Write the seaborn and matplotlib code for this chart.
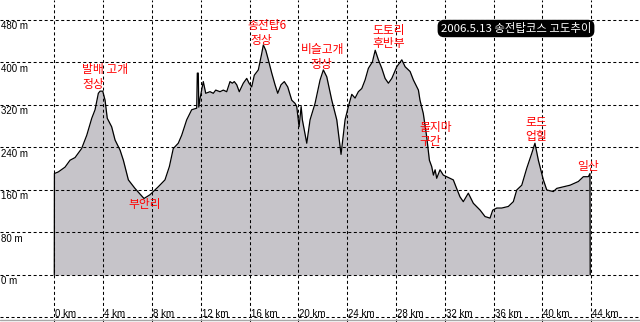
import matplotlib
matplotlib.use("Agg")
import matplotlib.pyplot as plt
import seaborn as sns
import pandas as pd

# ---- data (distance km, elevation m) ----
dist_km = [0.0, 0.01, 0.33, 0.88, 1.29, 1.70, 2.24, 2.66, 3.07, 3.34, 3.61, 3.75, 3.97,
           4.16, 4.34, 4.70, 4.98, 5.39, 5.66, 6.07, 6.61, 7.35, 7.84, 8.52, 9.07, 9.43,
           9.75, 10.16, 10.44, 10.85, 11.26, 11.67, 11.72, 11.80, 11.84, 11.95, 12.21,
           12.41, 12.76, 13.03, 13.23, 13.58, 13.85, 14.13, 14.40, 14.59, 14.75, 14.95,
           15.16, 15.49, 15.77, 15.96, 16.18, 16.39, 16.72, 17.00, 17.13, 17.33, 17.54,
           17.82, 18.09, 18.31, 18.58, 18.85, 19.13, 19.46, 19.73, 19.87,
           20.06, 20.23, 20.33, 20.69, 20.96, 21.37, 21.78, 22.05, 22.33,
           22.74, 23.15, 23.50, 23.83, 24.10, 24.38, 24.65, 24.92, 25.20, 25.47, 25.74,
           26.07, 26.30, 26.56, 26.84, 27.11, 27.38, 27.66, 28.07, 28.48, 28.75, 29.16,
           29.43, 29.84, 29.97, 30.24, 30.52, 30.74, 30.93, 31.07, 31.21, 31.34, 31.61,
           31.88, 32.16, 32.70, 32.97, 33.25, 33.52, 33.93, 34.34, 34.90, 35.30,
           35.71, 35.93, 36.26, 36.67, 37.21, 37.62, 37.90, 38.31, 38.72, 39.13, 39.39,
           39.67, 40.08, 40.36, 40.90, 41.18, 41.72, 42.27, 42.95, 43.36, 43.77, 43.90,
           43.92]
elev_m = [0, 191, 194, 203, 216, 221, 238, 263, 295, 311, 342, 346, 346,
          329, 295, 279, 254, 235, 216, 179, 163, 144, 151, 166, 179, 204,
          238, 248, 263, 292, 311, 314, 380, 380, 316, 333, 364,
          342, 345, 342, 348, 345, 348, 345, 364, 361, 364, 358,
          345, 361, 370, 361, 354, 376, 386, 417, 433, 423, 405,
          380, 358, 342, 358, 364, 354, 329, 323, 317,
          279, 317, 292, 248, 292, 323, 367, 386, 373,
          329, 292, 227, 292, 317, 340, 333, 345, 351, 367, 389,
          401, 423, 405, 389, 370, 361, 370, 392, 405, 392, 383,
          367, 348, 329, 304, 260, 216, 204, 188, 198, 182, 198,
          188, 185, 179, 163, 147, 138, 154, 135, 122, 110,
          107, 122, 126, 126, 129, 138, 160, 169, 201, 229, 248,
          216, 179, 160, 157, 163, 166, 169, 176, 185, 185, 191,
          0]

y_ticks = [0, 80, 160, 240, 320, 400, 480]
y_tick_labels = ["0 m", "80 m", "160 m", "240 m", "320 m", "400 m", "480 m"]
x_ticks = [0, 4, 8, 12, 16, 20, 24, 28, 32, 36, 40, 44]
x_tick_labels = ["0 km", "4 km", "8 km", "12 km", "16 km", "20 km", "24 km",
                 "28 km", "32 km", "36 km", "40 km", "44 km"]

# place-name annotations: (text, km, m) — left edge / vertical centre
note_texts = ["발배 고개", "정상", "부안리", "송전탑6", "정상", "비슬고개", "정상",
              "도토리", "후반부", "물지마", "구간", "로드", "업힐", "일산"]
note_km = [2.27, 2.27, 6.05, 15.86, 16.10, 20.20, 20.96,
           26.04, 26.04, 29.90, 29.90, 38.58, 38.58, 42.84]
note_m = [386, 359, 132, 470, 442, 425, 397,
          461, 435, 277, 252, 288, 260, 205]

title = "2006.5.13 송전탑코스 고도추이"

# ---- figure ----
sns.set_style("white")
plt.rcParams["font.family"] = ["Liberation Sans", "DejaVu Sans"]
kfont = ["Noto Sans CJK KR", "DejaVu Sans"]

fig = plt.figure(figsize=(6.4, 3.22), dpi=100)
ax = fig.add_axes([0, 0, 1, 1])
ax.set_xlim(-4.45, 48.0)
ax.set_ylim(-88.5, 517.6)
ax.axis("off")

df = pd.DataFrame({"km": dist_km, "elev": elev_m})
ax.fill_between(df["km"], df["elev"], 0, color="#c6c4c9", lw=0, zorder=1)
sns.lineplot(data=df, x="km", y="elev", sort=False, estimator=None,
             color="black", lw=0.9, ax=ax, zorder=3)

grid_kw = dict(color="black", lw=0.75, ls=(0, (2.9, 2.4)), zorder=2)
for v in y_ticks + [-80]:
    ax.axhline(v, **grid_kw)
for v in x_ticks:
    ax.axvline(v, **grid_kw)
ax.axhline(-85.6, color="#a8a8a8", lw=1.0, zorder=2)

ytr = ax.get_yaxis_transform()
for v, lab in zip(y_ticks, y_tick_labels):
    ax.text(0.001, v - 12.2, lab, transform=ytr, ha="left", va="center",
            fontsize=7, color="black")
xtr = ax.get_xaxis_transform()
for v, lab in zip(x_ticks, x_tick_labels):
    ax.text(v + 0.08, 0.024, lab, transform=xtr, ha="left", va="center",
            fontsize=7, color="black")

for t, k, m in zip(note_texts, note_km, note_m):
    ax.text(k, m, t, ha="left", va="center", fontsize=8.5, color="#ff0000",
            family=kfont, zorder=5)

ax.text(516 / 640, 1 - 28.5 / 322, title, transform=ax.transAxes,
        ha="center", va="center", fontsize=8.2, color="white", family=kfont,
        bbox=dict(boxstyle="round,pad=0.22,rounding_size=0.5",
                  facecolor="black", edgecolor="black"), zorder=6)

fig.savefig("out.png", dpi=100)
